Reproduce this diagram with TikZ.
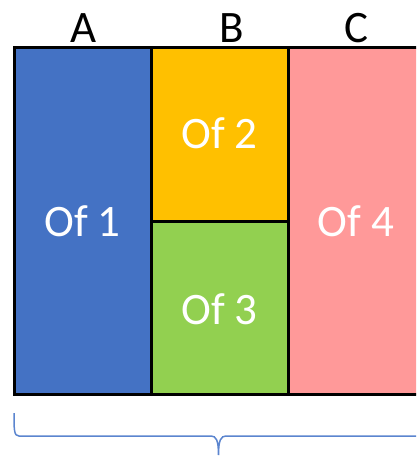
\documentclass[tikz,border=0pt]{standalone}
\usepackage{fontspec}
\setmainfont{Carlito}
\definecolor{cblue}{HTML}{4472C4}
\definecolor{corange}{HTML}{FFC000}
\definecolor{cgreen}{HTML}{92D050}
\definecolor{cpink}{HTML}{FF9999}
\definecolor{cbrace}{HTML}{5B85CF}
\begin{document}
\begin{tikzpicture}[x=1pt,y=-1pt,
  cell/.style={draw=black,line width=3pt},
  lbl/.style={font=\fontsize{45}{48}\selectfont,text=white,anchor=base,inner sep=0pt},
  hdr/.style={font=\fontsize{45}{48}\selectfont,text=black,anchor=base,inner sep=0pt}]
\clip (0,0) rectangle (416,456);
\fill[white] (0,0) rectangle (416,456);
\filldraw[cell,fill=cblue] (14,47.5) rectangle (151,394.5);
\filldraw[cell,fill=corange] (151,47.5) rectangle (288,221);
\filldraw[cell,fill=cgreen] (151,221) rectangle (288,394.5);
\filldraw[cell,fill=cpink] (288,47.5) rectangle (426,394.5);
\node[lbl] (t1) at (82.5,236) {Of 1};
\node[lbl] (t2) at (219.5,148) {Of 2};
\node[lbl] (t3) at (219.5,324) {Of 3};
\node[lbl] (t4) at (356,236) {Of 4};
\node[hdr] (ha) at (84,42) {A};
\node[hdr] (hb) at (232,42) {B};
\node[hdr] (hc) at (356,42) {C};
\coordinate (bl) at (14,413);
\coordinate (tip) at (218.5,455);
\coordinate (br) at (423,413);
\draw[cbrace,line width=1.5pt]
  (bl) .. controls (14,430) and (14,436) .. (19,436) -- (211,436)
  .. controls (216,436) and (218.5,440) .. (tip)
  .. controls (218.5,440) and (221,436) .. (226,436) -- (418,436)
  .. controls (423,436) and (423,430) .. (br);
\end{tikzpicture}
\end{document}
